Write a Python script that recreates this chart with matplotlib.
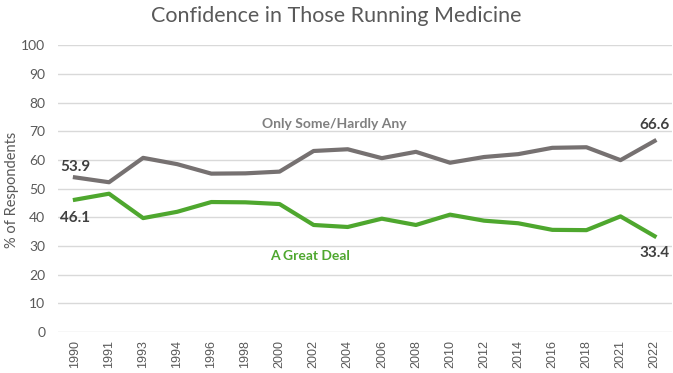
import matplotlib.pyplot as plt

years = ['1990', '1991', '1993', '1994', '1996', '1998', '2000', '2002', '2004',
         '2006', '2008', '2010', '2012', '2014', '2016', '2018', '2021', '2022']
only_some = [53.9, 52.2, 60.7, 58.5, 55.2, 55.3, 55.9, 63.1, 63.7,
             60.6, 62.8, 59.0, 61.0, 62.0, 64.2, 64.4, 59.9, 66.6]
great_deal = [46.1, 48.2, 39.7, 41.9, 45.3, 45.2, 44.6, 37.3, 36.6,
              39.5, 37.3, 40.9, 38.8, 37.9, 35.6, 35.5, 40.3, 33.4]

grey = '#767171'
green = '#4ea72e'
text_grey = '#595959'
dark = '#404040'

fig = plt.figure(figsize=(6.73, 3.73), dpi=100)
ax = fig.add_axes([0.086, 0.110, 0.912, 0.769])

x = range(len(years))
ax.plot(x, only_some, color=grey, linewidth=3, solid_joinstyle='round')
ax.plot(x, great_deal, color=green, linewidth=3, solid_joinstyle='round')

ax.set_xlim(-0.5, len(years) - 0.5)
ax.set_ylim(0, 100)
ax.set_yticks(range(0, 101, 10))
ax.set_xticks(list(x))
ax.set_xticklabels(years, rotation=90, fontsize=9, color=text_grey, family='Liberation Sans')
ax.tick_params(axis='y', labelsize=10, colors=text_grey, length=0, pad=9)
ax.tick_params(axis='x', length=0, pad=6)
for lab in ax.get_yticklabels():
    lab.set_family('Lato')
ax.grid(axis='y', color='#d9d9d9', linewidth=1)
ax.set_axisbelow(True)
for s in ax.spines.values():
    s.set_visible(False)

fig.text(0.018, 0.49, '% of Respondents', rotation=90, ha='center', va='center',
         fontsize=10.5, color=text_grey, family='Lato')
fig.text(0.5, 0.958, 'Confidence in Those Running Medicine', ha='center', va='center',
         fontsize=15.5, color=text_grey, family='Lato')

# end-point labels
ax.text(0, only_some[0] + 3.5, f'{only_some[0]:.1f}', ha='center', va='center',
        fontsize=11, fontweight='bold', color=dark, family='Lato')
ax.text(0, great_deal[0] - 6.5, f'{great_deal[0]:.1f}', ha='center', va='center',
        fontsize=11, fontweight='bold', color=dark, family='Lato')
ax.text(len(years) - 1, only_some[-1] + 5.5, f'{only_some[-1]:.1f}', ha='center', va='center',
        fontsize=11, fontweight='bold', color=dark, family='Lato')
ax.text(len(years) - 1, great_deal[-1] - 6, f'{great_deal[-1]:.1f}', ha='center', va='center',
        fontsize=11, fontweight='bold', color=dark, family='Lato')

# series names
ax.text(7.6, 72.5, 'Only Some/Hardly Any', ha='center', va='center',
        fontsize=10, fontweight='bold', color='#7f7f7f', family='Lato')
ax.text(6.9, 26.5, 'A Great Deal', ha='center', va='center',
        fontsize=10, fontweight='bold', color=green, family='Lato')

fig.savefig('out.png', dpi=100)
